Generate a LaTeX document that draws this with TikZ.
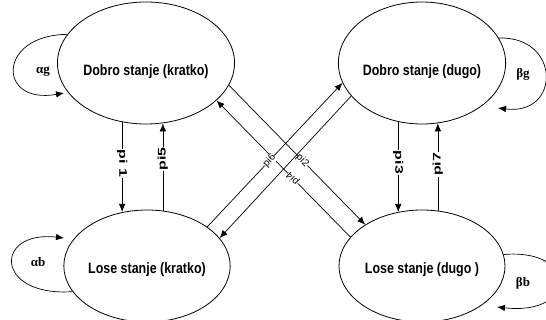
\documentclass[tikz,border=0pt]{standalone}
\usepackage{fontspec}
\setmainfont{Liberation Sans}
\newfontfamily\narrowsf[FakeStretch=0.83]{Liberation Sans}
\newfontfamily\widesf[FakeStretch=1.45]{Liberation Sans}
\newfontfamily\greekserif{Liberation Serif}
\usetikzlibrary{shapes.geometric,arrows.meta}
\begin{document}
\begin{tikzpicture}[x=1pt,y=-1pt,
  state/.style={draw, ellipse, line width=0.8pt, minimum width=166pt, minimum height=122pt,
    inner sep=0pt, text height=25pt, text depth=0pt,
    font=\narrowsf\bfseries\fontsize{15}{17}\selectfont},
  lowstate/.style={state, minimum height=112pt, text height=14pt},
  arr/.style={line width=0.7pt, -{Latex[length=8pt,width=6.5pt]}},
  vlab/.style={fill=white, inner sep=0.8pt, font=\widesf\bfseries\fontsize{11}{13}\selectfont},
  dlab/.style={fill=white, inner sep=0.2pt, font=\fontsize{10}{12}\selectfont},
  glab/.style={inner sep=0pt, font=\greekserif\bfseries\fontsize{13}{15}\selectfont}]
\useasboundingbox (0,0) rectangle (546,320);
\fill[white] (0,0) rectangle (546,320);

\node[state] (tl) at (146,63) {Dobro stanje (kratko)};
\node[state] (tr) at (422,63) {Dobro stanje (dugo)};
\node[lowstate] (bl) at (147,266) {Lose stanje (kratko)};
\node[lowstate] (br) at (422,266) {Lose stanje (dugo )};

% vertical connectors
\draw[arr] (tl.248.6) -- node[vlab, rotate=-90, pos=0.46] {pi 1} (tl.248.6 |- bl.114);
\draw[arr] (bl.74.8) -- node[vlab, rotate=90, pos=0.59] {pi5} (bl.74.8 |- tl.285);
\draw[arr] (tr.248.6) -- node[vlab, rotate=-90, pos=0.45] {pi3} (tr.248.6 |- br.114);
\draw[arr] (br.74.8) -- node[vlab, rotate=90, pos=0.53] {pi7} (br.74.8 |- tr.285);

% diagonal connectors
\draw[arr] (tr.205) -- (bl.21);
\draw[arr] (br.158) -- node[dlab, sloped, allow upside down, pos=0.43] {pi4} (tl.-28);
\draw[arr] (bl.33) -- node[dlab, sloped, pos=0.46] {pi6} (tr.194);
\draw[arr] (tl.-15) -- node[dlab, sloped, pos=0.54] {pi2} (br.144.5);

% self loops
\coordinate (agin) at (64,93);
\coordinate (bgin) at (498,108);
\coordinate (abin) at (64,238);
\coordinate (bbin) at (497,307);
\draw[arr] (tl.160) .. controls (-3,35) and (-3,105) .. (agin);
\draw[arr] (tr.18) .. controls (561,36) and (561,116) .. (bgin);
\draw[arr] (bl.199) .. controls (-6,297) and (-6,230) .. (abin);
\draw[arr] (br.8) .. controls (578,248) and (578,316) .. (bbin);

\node[glab] (ag) at (43,72) {αg};
\node[glab] (bg) at (523,74) {βg};
\node[glab] (ab) at (38,262) {αb};
\node[glab] (bb) at (523,283) {βb};
\end{tikzpicture}
\end{document}
